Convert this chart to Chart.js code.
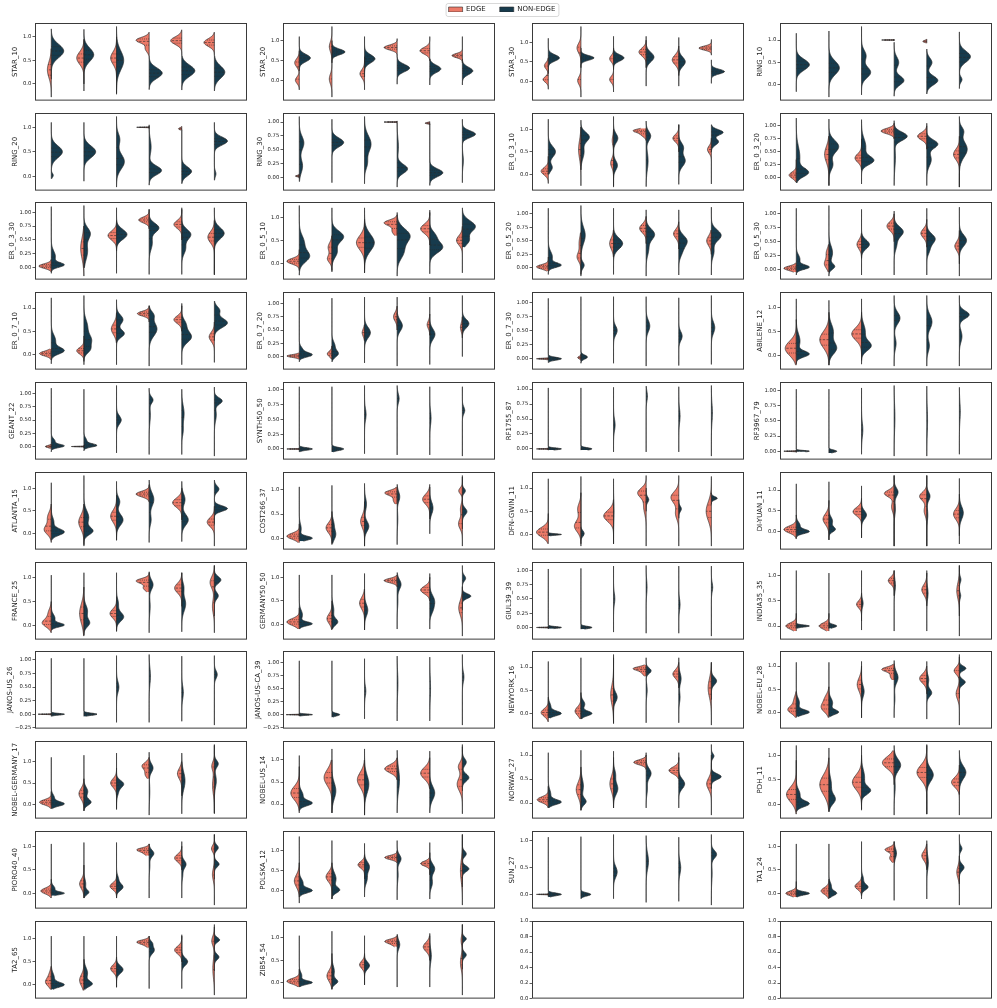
<!DOCTYPE html>
<html>
<head>
<meta charset="utf-8">
<script src="https://cdn.jsdelivr.net/npm/chart.js@4.4.1/dist/chart.umd.min.js"></script>
<style>
  html, body { margin: 0; padding: 0; background: #fff; }
  #fig { position: relative; width: 997px; height: 1008px; overflow: hidden; background: #fff; }
  #fig canvas { position: absolute; }
</style>
</head>
<body>
<div id="fig"></div>
<script>
// panel titles, row by row (4 per row)
const PANELS = [
  'STAR_10', 'STAR_20', 'STAR_30', 'RING_10',
  'RING_20', 'RING_30', 'ER_0_3_10', 'ER_0_3_20',
  'ER_0_3_30', 'ER_0_5_10', 'ER_0_5_20', 'ER_0_5_30',
  'ER_0_7_10', 'ER_0_7_20', 'ER_0_7_30', 'ABILENE_12',
  'GEANT_22', 'SYNTH50_50', 'RF1755_87', 'RF3967_79',
  'ATLANTA_15', 'COST266_37', 'DFN-GWIN_11', 'DI-YUAN_11',
  'FRANCE_25', 'GERMANY50_50', 'GIUL39_39', 'INDIA35_35',
  'JANOS-US_26', 'JANOS-US-CA_39', 'NEWYORK_16', 'NOBEL-EU_28',
  'NOBEL-GERMANY_17', 'NOBEL-US_14', 'NORWAY_27', 'PDH_11',
  'PIORO40_40', 'POLSKA_12', 'SUN_27', 'TA1_24',
  'TA2_65', 'ZIB54_54'
];
const EMPTY_PANELS = 2;

// y tick labels
const TICKS_HALF = ['0.0', '0.5', '1.0'];
const TICKS_QUARTER = ['0.00', '0.25', '0.50', '0.75', '1.00'];
const TICKS_QUARTER_NEG = ['\u22120.25', '0.00', '0.25', '0.50', '0.75', '1.00'];
const TICKS_EMPTY = ['0.0', '0.2', '0.4', '0.6', '0.8', '1.0'];
const PANEL_TICKS = [
  'h','h','h','h',  'h','q','h','q',  'q','h','q','q',  'h','q','q','h',
  'q','q','q','q',  'h','h','h','h',  'h','h','q','h',  'n','n','h','h',
  'h','h','h','h',  'h','h','h','h',  'h','h'
];

// six groups on the x axis
const GROUPS = [0, 1, 2, 3, 4, 5];

// each half violin: [low end, high end, then (centre, spread, relative width) per bump]
const EDGE = [
  [[-0.28,0.75,0.3,0.17,0.3],[-0.15,0.95,0.55,0.13,0.55],[-0.2,1.0,0.55,0.13,0.45],[0.6,1.1,0.93,0.06,1.0,0.75,0.07,0.3],[0.6,1.15,0.92,0.08,0.85],[0.6,1.1,0.88,0.08,0.8]],
  [[-0.22,0.75,0.45,0.1,0.35,0.02,0.08,0.3],[-0.4,1.35,0.85,0.12,0.2,0.05,0.12,0.2],[-0.22,0.6,0.18,0.1,0.35],[0.6,1.05,0.83,0.06,1.0],[0.5,1.1,0.75,0.08,0.75],[0.45,1.1,0.63,0.05,0.8]],
  [[-0.2,0.6,0.4,0.08,0.3,0.05,0.07,0.4],[-0.4,1.4,0.85,0.12,0.3,0.02,0.1,0.25],[-0.27,0.85,0.58,0.08,0.3,0.05,0.08,0.3],[0.35,1.05,0.75,0.1,0.55],[0.15,0.9,0.55,0.12,0.5],[0.67,1.07,0.85,0.05,0.95]],
  [null,null,null,[1,1,1,0.004,0.95],[0.93,1.02,0.97,0.02,0.3],null],
  [null,null,null,[1,1,1,0.004,0.95],[0.94,1.02,0.97,0.02,0.25],null],
  [[-0.02,0.06,0.02,0.012,0.3],null,null,[1,1,1,0.004,1.0],[0.95,1.01,0.98,0.012,0.35],null],
  [[-0.2,0.4,0.07,0.08,0.55],[-0.25,1.05,0.55,0.2,0.18],[-0.25,1.0,0.25,0.1,0.22,0.75,0.1,0.1],[0.75,1.02,0.97,0.04,1.0,0.88,0.05,0.4],[0.5,1.1,0.8,0.08,0.45],[-0.21,0.8,0.55,0.08,0.3]],
  [[-0.08,0.35,0.05,0.06,0.55],[-0.15,0.8,0.45,0.15,0.33],[0.15,0.75,0.38,0.08,0.5],[0.75,1.05,0.9,0.05,1.0],[0.55,1.0,0.8,0.07,0.7],[-0.18,0.8,0.45,0.1,0.45]],
  [[-0.07,0.15,0.03,0.04,0.95],[-0.15,0.75,0.35,0.18,0.25],[0.3,0.85,0.58,0.08,0.65],[0.7,1.05,0.86,0.05,0.8],[0.5,1.05,0.78,0.07,0.6],[-0.13,0.85,0.55,0.1,0.5]],
  [[-0.15,0.3,0.05,0.06,0.95],[-0.15,0.6,0.1,0.08,0.35,0.35,0.1,0.3],[-0.2,0.95,0.45,0.15,0.62],[0.6,1.05,0.88,0.06,1.0,0.7,0.08,0.4],[0.4,1.1,0.75,0.1,0.7],[-0.2,0.8,0.5,0.1,0.45]],
  [[-0.06,0.2,0.02,0.04,0.9],[-0.12,0.65,0.2,0.08,0.3,0.45,0.12,0.15],[0.2,0.7,0.45,0.1,0.3],[0.45,0.95,0.73,0.08,0.5],[0.35,0.85,0.63,0.08,0.4],[0.25,0.7,0.5,0.09,0.36]],
  [[-0.05,0.12,0.02,0.04,0.95],[-0.05,0.45,0.1,0.08,0.35,0.3,0.08,0.2],[0.2,0.65,0.45,0.08,0.35],[0.5,1.0,0.78,0.08,0.55],[0.4,0.9,0.65,0.08,0.45],[-0.12,0.7,0.42,0.08,0.35]],
  [[-0.12,0.12,0.02,0.05,0.9],[-0.15,0.4,0.08,0.07,0.55],[0.25,0.9,0.55,0.12,0.4],[0.7,1.05,0.88,0.05,0.9],[0.5,1.1,0.75,0.08,0.6],[-0.17,0.7,0.38,0.1,0.4]],
  [[-0.05,0.07,0.01,0.025,0.95],[-0.05,0.2,0.05,0.05,0.35],[0.3,0.6,0.45,0.07,0.18],[0.5,0.95,0.75,0.08,0.28],[0.4,0.8,0.6,0.07,0.2],[0.35,0.75,0.55,0.08,0.15]],
  [[-0.02,0.02,0.0,0.008,0.9],[-0.03,0.08,0.02,0.02,0.25],null,null,null,null],
  [[-0.2,0.75,0.15,0.15,0.85],[-0.2,0.9,0.33,0.17,0.7],[-0.1,0.9,0.45,0.13,0.75],null,null,null],
  [[-0.04,0.05,0.0,0.02,0.45],[0,0,0,0.004,0.95],null,null,null,null],
  [[0,0,0,0.004,0.95],null,null,null,null,null],
  [[0,0,0,0.004,0.9],null,null,null,null,null],
  [[0,0,0,0.004,0.95],null,null,null,null,null],
  [[-0.2,0.65,0.08,0.1,0.55,0.35,0.12,0.3],[-0.25,0.65,0.25,0.15,0.4],[-0.15,0.85,0.38,0.13,0.45],[0.7,1.08,0.87,0.06,1.0],[0.3,1.0,0.68,0.1,0.7],[-0.28,0.6,0.25,0.1,0.55]],
  [[-0.08,0.3,0.05,0.06,0.95],[-0.12,0.55,0.22,0.1,0.45],[-0.15,0.75,0.35,0.12,0.3],[0.7,1.05,0.93,0.05,0.95,0.78,0.07,0.3],[0.4,1.1,0.8,0.1,0.55],[-0.15,1.25,0.97,0.06,0.28,0.3,0.1,0.3,0.6,0.1,0.15]],
  [[-0.2,0.45,0.05,0.1,0.9],[-0.25,0.9,0.18,0.12,0.5,0.55,0.12,0.25],[-0.2,0.75,0.4,0.12,0.75],[-0.25,1.27,0.9,0.1,0.65,0.6,0.15,0.2],[-0.25,1.27,0.8,0.12,0.6,0.45,0.12,0.25],[-0.25,1.25,0.5,0.2,0.4]],
  [[-0.18,0.4,0.05,0.08,0.95],[-0.2,0.75,0.3,0.13,0.45],[-0.15,0.8,0.48,0.1,0.65],[-0.35,1.35,0.92,0.08,0.75,0.6,0.12,0.2],[-0.35,1.35,0.85,0.1,0.55,0.5,0.12,0.2],[-0.3,0.9,0.42,0.13,0.45]],
  [[-0.15,0.5,0.05,0.08,0.7,0.25,0.1,0.25],[-0.22,0.8,0.25,0.2,0.33],[-0.12,0.6,0.25,0.09,0.5],[0.7,1.1,0.93,0.05,1.0,0.78,0.06,0.45],[0.4,1.1,0.78,0.1,0.55],[-0.15,1.25,0.9,0.12,0.33,0.4,0.15,0.15]],
  [[-0.1,0.35,0.05,0.07,0.95],[-0.12,0.5,0.12,0.1,0.38],[-0.12,0.75,0.45,0.12,0.38],[0.8,1.05,0.93,0.045,1.0],[0.5,1.0,0.73,0.08,0.7],[-0.25,0.8,0.35,0.15,0.28]],
  [[0,0,0,0.004,0.9],null,null,null,null,null],
  [[-0.1,0.25,0.0,0.06,0.8],[-0.1,0.25,0.0,0.06,0.75],[0.1,0.65,0.43,0.07,0.38],[0.6,1.1,0.9,0.07,0.45],[0.4,1.05,0.72,0.1,0.38],[-0.2,1.2,0.7,0.15,0.2]],
  [[0,0,0,0.004,1.0],null,null,null,null,null],
  [[0,0,0,0.004,1.0],null,null,null,null,null],
  [[-0.18,0.35,0.02,0.08,0.55],[-0.12,0.45,0.05,0.09,0.45],[-0.2,1.2,0.4,0.2,0.22],[0.8,1.05,0.97,0.04,1.0,0.88,0.06,0.35],[0.55,1.1,0.85,0.09,0.45],[-0.25,1.1,0.55,0.2,0.25]],
  [[-0.12,0.45,0.05,0.08,0.65,0.25,0.1,0.2],[-0.12,0.55,0.1,0.1,0.6,0.3,0.1,0.3],[-0.12,1.0,0.6,0.14,0.33],[0.7,1.05,0.93,0.05,0.95,0.78,0.07,0.3],[0.4,1.0,0.73,0.1,0.55],[-0.28,1.2,0.9,0.08,0.4,0.4,0.12,0.25]],
  [[-0.1,0.3,0.05,0.06,0.9],[-0.15,0.6,0.25,0.12,0.38],[-0.1,0.85,0.5,0.1,0.45],[0.6,1.1,0.9,0.08,0.55,0.7,0.08,0.3],[0.2,1.0,0.72,0.12,0.33],[-0.22,1.38,0.9,0.1,0.2,0.45,0.2,0.15]],
  [[-0.2,0.85,0.25,0.15,0.65],[-0.2,1.0,0.6,0.18,0.6],[-0.25,1.0,0.55,0.17,0.55],[0.55,1.05,0.8,0.09,0.95],[0.35,1.05,0.7,0.13,0.7],[-0.22,1.35,0.45,0.15,0.4,0.85,0.1,0.3]],
  [[-0.1,0.35,0.07,0.06,0.85],[-0.15,0.75,0.28,0.15,0.36],[-0.1,0.95,0.4,0.15,0.28],[0.7,1.05,0.85,0.05,0.95],[0.5,0.95,0.68,0.07,0.75],[-0.25,1.0,0.4,0.12,0.36]],
  [[-0.2,0.9,0.2,0.15,0.75],[-0.15,0.95,0.4,0.2,0.7],[-0.12,1.0,0.45,0.15,0.7],[0.4,1.1,0.85,0.12,0.9],[-0.2,1.2,0.65,0.15,0.75],[-0.22,0.8,0.45,0.1,0.6]],
  [[-0.1,0.3,0.05,0.06,0.8],[-0.1,0.6,0.2,0.1,0.33],[-0.1,0.4,0.15,0.07,0.5],[0.8,1.05,0.93,0.04,0.95,0.85,0.05,0.4],[0.5,1.0,0.75,0.08,0.55],[-0.25,1.25,0.95,0.07,0.22,0.4,0.12,0.15]],
  [[-0.3,0.7,0.25,0.15,0.38],[-0.2,0.7,0.35,0.12,0.45],[0.3,0.9,0.65,0.08,0.5],[0.7,1.0,0.83,0.05,0.95],[0.4,0.95,0.68,0.06,0.7],[-0.35,1.4,0.5,0.25,0.15]],
  [[0,0,0,0.004,0.9],null,null,null,null,null],
  [[-0.08,0.25,0.0,0.05,0.8],[-0.12,0.3,0.05,0.07,0.6],[-0.05,0.35,0.15,0.07,0.5],[0.65,1.1,0.93,0.05,0.7,0.75,0.07,0.35],[0.5,1.05,0.8,0.1,0.38],[-0.25,0.8,0.45,0.12,0.2]],
  [[-0.1,0.4,0.05,0.08,0.45,0.2,0.1,0.2],[-0.12,0.55,0.1,0.12,0.33],[-0.05,0.6,0.35,0.08,0.45],[0.8,1.05,0.93,0.04,0.95,0.87,0.05,0.4],[0.5,1.05,0.75,0.08,0.55],[-0.22,1.3,0.95,0.1,0.2,0.35,0.2,0.12]],
  [[-0.1,0.3,0.03,0.06,0.95],[-0.15,0.65,0.15,0.12,0.38],[-0.05,0.65,0.4,0.08,0.38],[0.8,1.05,0.93,0.045,0.95,0.85,0.05,0.35],[0.5,1.05,0.8,0.1,0.5],[-0.28,1.3,0.45,0.15,0.15,0.95,0.1,0.1]]
];

const NON_EDGE = [
  [[0.1,1.17,0.7,0.14,0.95],[0.0,1.16,0.62,0.14,0.75],[-0.22,1.22,0.5,0.2,0.55],[-0.12,0.6,0.23,0.11,1.0],[-0.13,0.6,0.28,0.12,1.0],[-0.15,0.6,0.25,0.13,0.8]],
  [[0.25,1.1,0.57,0.09,0.85],[0.45,1.0,0.72,0.07,1.0],[0.1,1.1,0.55,0.1,0.8],[-0.08,0.6,0.32,0.09,0.95],[-0.1,0.55,0.3,0.09,0.85],[-0.1,0.55,0.25,0.09,0.8]],
  [[0.2,1.1,0.6,0.08,0.85],[0.35,0.85,0.6,0.06,1.0],[0.3,1.15,0.6,0.08,0.8],[-0.12,1.15,0.62,0.12,0.6],[-0.12,1.12,0.5,0.12,0.5],[-0.05,0.55,0.25,0.06,1.0]],
  [[-0.15,1.15,0.45,0.12,1.0],[-0.27,1.2,0.38,0.15,0.8],[-0.22,1.3,0.28,0.12,0.7,0.65,0.12,0.35],[-0.25,0.95,0.1,0.1,0.75,0.5,0.12,0.35],[-0.2,0.8,0.1,0.1,0.85,0.5,0.1,0.4],[-0.08,1.18,0.63,0.12,0.85,0.12,0.06,0.2]],
  [[-0.05,1.1,0.5,0.12,0.85,0.02,0.04,0.15],[-0.1,1.1,0.5,0.12,0.9],[-0.22,1.22,0.3,0.15,0.6,0.75,0.12,0.25],[-0.18,1.05,0.12,0.09,0.95,0.6,0.15,0.15],[-0.15,0.95,0.1,0.09,0.75],[-0.08,1.1,0.72,0.08,1.0,0.05,0.06,0.12]],
  [[-0.08,1.1,0.62,0.12,0.35,0.2,0.12,0.25],[-0.1,1.05,0.63,0.08,0.9],[-0.12,1.1,0.6,0.15,0.5,0.25,0.1,0.2],[-0.18,0.98,0.15,0.08,0.8,0.55,0.15,0.1],[-0.15,0.97,0.08,0.07,1.0],[-0.1,1.05,0.78,0.06,1.0,0.3,0.1,0.08]],
  [[0.0,1.22,0.5,0.12,0.55,0.15,0.08,0.3],[0.1,1.2,0.83,0.1,0.65,0.5,0.15,0.25],[-0.28,1.28,0.8,0.1,0.33,0.2,0.1,0.3],[-0.27,1.18,0.85,0.1,0.35,0.3,0.2,0.15],[-0.22,1.1,0.3,0.12,0.5,0.6,0.1,0.35],[0.5,1.1,0.93,0.06,0.9,0.72,0.07,0.55]],
  [[-0.1,1.15,0.1,0.08,0.95,0.4,0.2,0.3],[-0.15,1.13,0.6,0.12,0.75,0.25,0.1,0.3],[-0.12,1.12,0.33,0.08,0.95,0.6,0.15,0.35],[-0.15,1.1,0.8,0.08,1.0,0.4,0.2,0.1],[-0.15,1.05,0.65,0.08,0.85,0.35,0.12,0.35],[-0.18,1.18,0.55,0.15,0.6,0.9,0.08,0.3]],
  [[-0.1,1.1,0.05,0.04,1.0,0.2,0.1,0.35],[0.0,1.12,0.62,0.1,0.5,0.3,0.15,0.3],[-0.1,1.08,0.6,0.09,0.8],[-0.12,1.05,0.72,0.08,0.75,0.45,0.12,0.25],[-0.12,1.08,0.6,0.09,0.7,0.35,0.1,0.3],[-0.12,1.08,0.62,0.1,0.75]],
  [[-0.25,1.25,0.15,0.12,0.8,0.45,0.15,0.4],[-0.18,1.2,0.58,0.12,0.9,0.25,0.12,0.4],[-0.2,1.2,0.45,0.18,0.75],[-0.27,1.1,0.6,0.15,1.0,0.25,0.15,0.5],[-0.22,1.15,0.35,0.12,1.0,0.6,0.1,0.4],[0.35,1.2,0.8,0.12,1.0,0.5,0.1,0.5]],
  [[-0.12,1.1,0.05,0.04,1.0,0.2,0.1,0.35],[-0.15,1.15,0.6,0.15,0.33,0.05,0.06,0.25],[-0.12,1.1,0.45,0.1,0.7],[-0.15,1.07,0.62,0.1,0.65,0.35,0.12,0.2],[-0.13,1.07,0.5,0.1,0.65,0.3,0.1,0.25],[-0.13,1.12,0.6,0.1,0.75,0.3,0.1,0.2]],
  [[-0.1,1.1,0.04,0.04,1.0,0.18,0.08,0.3],[-0.12,1.15,0.05,0.05,0.45,0.3,0.12,0.3],[-0.1,1.08,0.45,0.08,0.6],[-0.1,1.05,0.68,0.09,0.7,0.45,0.1,0.2],[-0.1,1.1,0.55,0.09,0.65,0.35,0.08,0.2],[0.1,1.12,0.52,0.1,0.55]],
  [[-0.2,1.22,0.08,0.07,1.0,0.3,0.12,0.35],[-0.22,1.27,0.3,0.12,0.6,0.6,0.15,0.3,0.1,0.08,0.4],[-0.22,1.18,0.45,0.08,0.6,0.75,0.1,0.5],[-0.25,1.05,0.55,0.15,0.6,0.85,0.08,0.3],[-0.22,1.05,0.38,0.12,0.75,0.65,0.1,0.3],[0.3,1.15,0.68,0.1,1.0,0.95,0.08,0.4]],
  [[-0.1,1.1,0.03,0.04,1.0,0.12,0.06,0.3],[-0.1,1.1,0.05,0.06,0.5,0.2,0.08,0.25],[-0.12,1.12,0.45,0.1,0.45],[-0.18,1.12,0.58,0.1,0.4],[-0.15,1.12,0.42,0.1,0.4],[0.0,1.15,0.62,0.08,0.5]],
  [[-0.07,1.07,0.0,0.025,1.0],[-0.08,1.1,0.03,0.035,0.5],[-0.08,1.1,0.5,0.08,0.28],[-0.13,1.1,0.58,0.1,0.28],[-0.12,1.08,0.4,0.08,0.26],[-0.1,1.12,0.55,0.1,0.26]],
  [[-0.17,1.18,0.03,0.06,1.0,0.3,0.15,0.3],[-0.2,1.15,0.15,0.12,0.6,0.5,0.15,0.35],[-0.18,1.18,0.2,0.1,0.75,0.5,0.15,0.3],[-0.22,1.25,0.78,0.12,0.45,0.25,0.12,0.15],[-0.22,1.25,0.7,0.15,0.4,0.2,0.12,0.2],[-0.22,1.25,0.85,0.08,0.75,0.4,0.12,0.2]],
  [[-0.1,1.1,0.01,0.03,1.0,0.1,0.05,0.3],[-0.08,1.08,0.02,0.03,1.0,0.1,0.06,0.25],[-0.12,1.15,0.5,0.08,0.36],[-0.15,1.1,0.88,0.06,0.3,0.6,0.15,0.1],[-0.15,1.08,0.62,0.15,0.18,0.3,0.1,0.1],[-0.18,1.12,0.86,0.06,0.6,0.6,0.12,0.15]],
  [[-0.05,1.05,0.0,0.02,1.0],[-0.05,1.05,0.0,0.025,0.9],[-0.08,1.07,0.58,0.1,0.12],[-0.1,1.07,0.85,0.08,0.15],[-0.1,1.05,0.52,0.12,0.1],[-0.12,1.05,0.65,0.06,0.18]],
  [[-0.02,1.02,0.0,0.015,1.0],[-0.02,1.02,0.0,0.02,0.85],[-0.05,1.03,0.4,0.1,0.12],[-0.05,1.05,0.88,0.08,0.1],[-0.05,1.04,0.55,0.12,0.1],[-0.12,1.06,0.6,0.15,0.08]],
  [[-0.01,1.02,0.0,0.012,1.0],[-0.03,1.02,0.0,0.02,0.6],[-0.05,1.04,0.35,0.12,0.1],[-0.08,1.08,0.55,0.2,0.06],[-0.08,1.07,0.5,0.2,0.06],[-0.05,1.05,0.65,0.15,0.07]],
  [[-0.15,1.12,0.03,0.07,1.0,0.25,0.1,0.2],[-0.28,1.28,0.05,0.08,0.7,0.35,0.15,0.4],[-0.15,1.15,0.3,0.12,0.5,0.7,0.1,0.25],[-0.2,1.18,0.75,0.15,0.36,0.3,0.12,0.15],[-0.18,1.15,0.3,0.12,0.5,0.75,0.12,0.25],[0.2,1.18,0.55,0.06,1.0,0.98,0.07,0.35]],
  [[-0.05,1.05,0.01,0.04,1.0,0.2,0.1,0.15],[-0.1,1.08,0.08,0.1,0.3,0.3,0.1,0.15],[-0.15,1.12,0.25,0.1,0.33,0.7,0.12,0.15],[-0.12,1.1,0.85,0.1,0.2,0.4,0.15,0.05],[0.1,1.05,0.62,0.12,0.25],[0.2,1.28,0.97,0.05,0.23,0.55,0.07,0.35]],
  [[-0.03,1.2,0.0,0.015,1.0],[-0.2,1.25,0.02,0.06,0.25],[-0.2,1.2,0.5,0.2,0.04],[0.5,1.0,0.75,0.06,0.2],[0.35,0.75,0.55,0.06,0.2],[0.65,0.9,0.78,0.035,0.45]],
  [[-0.15,1.15,0.0,0.05,1.0,0.15,0.08,0.3],[-0.2,1.2,0.05,0.06,0.5,0.25,0.1,0.3],[-0.15,1.1,0.4,0.1,0.38],[-0.35,1.35,0.95,0.1,0.3,0.55,0.15,0.1],[-0.35,1.35,0.85,0.1,0.25,0.4,0.15,0.08],[-0.1,1.28,0.45,0.15,0.3]],
  [[-0.1,1.05,0.01,0.04,1.0,0.15,0.08,0.3],[-0.2,1.1,0.05,0.08,0.45,0.3,0.12,0.3],[-0.12,1.1,0.18,0.09,0.55,0.45,0.1,0.15],[-0.15,1.12,0.85,0.1,0.3,0.4,0.15,0.08],[-0.13,1.1,0.45,0.15,0.3,0.8,0.1,0.15],[0.2,1.25,0.95,0.07,0.5,0.62,0.07,0.3]],
  [[-0.1,1.05,0.01,0.04,1.0,0.2,0.1,0.25],[-0.1,1.05,0.05,0.07,0.45,0.3,0.12,0.15],[-0.12,1.08,0.3,0.12,0.25],[-0.1,1.1,0.85,0.1,0.3,0.5,0.15,0.06],[-0.1,1.08,0.5,0.12,0.38,0.3,0.1,0.2],[0.3,1.25,0.6,0.05,0.65,0.98,0.06,0.25]],
  [[-0.02,1.02,0.0,0.015,1.0],[-0.03,1.03,0.0,0.02,0.85],[-0.08,1.07,0.5,0.1,0.1],[-0.1,1.08,0.7,0.12,0.07],[-0.1,1.07,0.4,0.1,0.1],[-0.15,1.07,0.7,0.08,0.1]],
  [[-0.05,1.1,0.0,0.02,1.0],[-0.05,1.05,0.0,0.03,0.6],[-0.08,1.1,0.45,0.08,0.12],[-0.1,1.1,0.8,0.12,0.1],[-0.1,1.1,0.65,0.12,0.1],[0.2,1.2,0.92,0.06,0.12,0.6,0.06,0.1]],
  [[-0.04,1.03,0.0,0.015,1.0],[-0.04,1.03,0.0,0.02,1.0],[-0.15,1.08,0.5,0.1,0.18],[-0.15,1.1,0.7,0.15,0.1],[-0.13,1.07,0.4,0.12,0.12],[-0.2,1.08,0.73,0.07,0.22]],
  [[-0.03,1.03,0.0,0.012,1.0],[-0.05,1.03,0.0,0.025,0.6],[-0.08,1.07,0.45,0.1,0.1],[-0.12,1.12,0.6,0.2,0.06],[-0.12,1.1,0.5,0.2,0.06],[-0.2,1.15,0.72,0.1,0.12]],
  [[-0.1,1.12,0.0,0.05,1.0,0.15,0.08,0.2],[-0.12,1.2,0.0,0.05,0.85,0.2,0.08,0.3],[-0.22,1.27,0.35,0.1,0.28],[-0.2,1.2,0.92,0.06,0.38,0.5,0.12,0.08],[-0.2,1.2,0.75,0.12,0.18,0.35,0.12,0.1],[0.3,1.1,0.7,0.08,0.4]],
  [[-0.1,1.08,0.0,0.05,1.0,0.2,0.1,0.25],[-0.1,1.08,0.0,0.05,0.75,0.2,0.1,0.3],[-0.12,1.1,0.45,0.12,0.2],[-0.12,1.12,0.75,0.12,0.3,0.3,0.12,0.06],[-0.15,1.1,0.42,0.08,0.38,0.7,0.1,0.15],[0.3,1.25,0.95,0.05,0.5,0.65,0.06,0.45]],
  [[-0.1,1.1,0.01,0.05,1.0,0.15,0.08,0.25],[-0.15,1.15,0.05,0.07,0.55,0.3,0.1,0.3],[-0.12,1.2,0.48,0.08,0.55,0.3,0.1,0.15],[-0.25,1.22,0.85,0.1,0.3,0.3,0.2,0.05],[-0.22,1.2,0.55,0.2,0.25],[-0.2,1.4,0.95,0.08,0.3,0.55,0.15,0.15]],
  [[-0.15,1.1,0.02,0.06,1.0,0.2,0.1,0.3],[-0.2,1.25,0.3,0.18,0.3],[-0.25,1.25,0.45,0.2,0.33],[-0.2,1.22,0.55,0.25,0.18],[-0.2,1.2,0.25,0.15,0.38],[0.3,1.3,0.6,0.08,0.5,0.95,0.08,0.3]],
  [[-0.1,1.05,0.02,0.05,1.0,0.18,0.1,0.2],[-0.15,1.1,0.03,0.07,0.4,0.35,0.15,0.2],[-0.1,1.08,0.3,0.12,0.33,0.6,0.1,0.15],[-0.1,1.0,0.62,0.1,0.38,0.3,0.12,0.1],[-0.1,1.05,0.4,0.1,0.45],[0.3,1.22,0.55,0.06,0.75,0.98,0.05,0.2]],
  [[-0.15,1.2,0.01,0.06,1.0,0.2,0.1,0.3],[-0.15,1.15,0.1,0.1,0.5,0.4,0.15,0.2],[-0.1,1.2,0.28,0.08,0.7,0.55,0.15,0.25],[-0.22,1.2,0.8,0.12,0.5,0.35,0.15,0.08],[-0.2,1.22,0.6,0.13,0.5],[0.2,1.1,0.65,0.13,0.5]],
  [[-0.05,1.05,0.0,0.03,1.0,0.1,0.06,0.3],[-0.1,1.08,0.02,0.05,0.38,0.2,0.1,0.15],[-0.1,1.08,0.13,0.07,0.5,0.3,0.08,0.15],[-0.1,1.05,0.85,0.07,0.36,0.6,0.12,0.06],[-0.1,1.1,0.62,0.08,0.33,0.4,0.1,0.08],[0.3,1.25,0.62,0.06,0.36,0.97,0.06,0.3]],
  [[-0.15,1.35,0.01,0.06,1.0,0.2,0.1,0.3],[-0.2,1.25,0.02,0.07,0.6,0.3,0.15,0.35],[-0.15,1.18,0.6,0.12,0.38,0.3,0.12,0.2],[-0.22,1.25,0.8,0.1,0.3,0.4,0.15,0.08],[-0.2,1.2,0.55,0.12,0.38,0.2,0.12,0.2],[0.1,1.4,0.55,0.07,0.5,0.92,0.07,0.3]],
  [[-0.05,1.07,0.0,0.025,1.0],[-0.08,1.08,0.0,0.03,0.75],[-0.08,1.12,0.42,0.1,0.28],[-0.15,1.1,0.62,0.15,0.18],[-0.13,1.07,0.5,0.12,0.15],[-0.2,1.12,0.75,0.07,0.4,0.4,0.15,0.06]],
  [[-0.08,1.05,0.0,0.035,1.0],[-0.1,1.05,0.0,0.05,0.6,0.15,0.08,0.2],[-0.12,1.1,0.13,0.06,0.5,0.3,0.08,0.15],[-0.15,1.1,0.85,0.1,0.18],[-0.12,1.12,0.65,0.15,0.12],[0.2,1.25,0.55,0.07,0.36,0.95,0.06,0.2]],
  [[-0.1,1.05,0.0,0.05,1.0,0.15,0.1,0.25],[-0.1,1.05,0.02,0.06,0.65,0.25,0.12,0.3],[-0.05,1.05,0.33,0.08,0.5],[-0.08,1.05,0.75,0.08,0.4,0.9,0.05,0.2],[-0.08,1.08,0.5,0.08,0.45],[0.3,1.25,0.97,0.05,0.4,0.6,0.06,0.35]],
  [[-0.1,1.05,0.0,0.04,1.0,0.15,0.08,0.2],[-0.15,1.15,0.02,0.06,0.45,0.25,0.12,0.2],[-0.05,1.05,0.38,0.08,0.38],[-0.1,1.08,0.85,0.1,0.2],[-0.1,1.1,0.6,0.15,0.12],[0.3,1.3,0.98,0.05,0.3,0.62,0.06,0.3]]
];

const EDGE_COLOR = '#EC7A68';
const NON_EDGE_COLOR = '#173B4D';
const LINE_COLOR = '#2a2a2a';
const FONT = 'DejaVu Sans';

// figure layout
const COL_X = [35, 283, 532, 780];
const ROW_Y0 = 22.7, ROW_STEP = 89.8;
const PLOT_W = 212, PLOT_H = 78;
const AXIS_W = 35, PAD_T = 6, PAD_B = 4, PAD_R = 3;
const HALF_W = 0.4;

const fig = document.getElementById('fig');

const framePlugin = {
  id: 'frame',
  afterDraw(chart) {
    const { ctx, chartArea: a } = chart;
    ctx.save();
    ctx.strokeStyle = '#3a3a3a';
    ctx.lineWidth = 1;
    ctx.strokeRect(a.left + 0.5, a.top + 0.5, a.right - a.left - 1, a.bottom - a.top - 1);
    ctx.restore();
  }
};

function toValue(label) {
  return parseFloat(label.replace('\u2212', '-'));
}

function tickLabels(key) {
  if (key === 'q') return TICKS_QUARTER;
  if (key === 'n') return TICKS_QUARTER_NEG;
  if (key === 'e') return TICKS_EMPTY;
  return TICKS_HALF;
}

// outline, centre line and quartile lines of one half violin
function halfViolin(spec, x0, side, color) {
  let lo = spec[0], hi = spec[1];
  const bumps = [];
  for (let k = 2; k + 2 < spec.length; k += 3) bumps.push({ m: spec[k], s: spec[k + 1], w: spec[k + 2] });
  if (hi - lo < 1e-6) { lo -= 0.02; hi += 0.02; }
  const dens = y => bumps.reduce((a, b) => a + b.w * Math.exp(-0.5 * ((y - b.m) / b.s) ** 2), 0);

  let ys = [];
  const N = 80;
  for (let i = 0; i <= N; i++) ys.push(lo + (hi - lo) * i / N);
  bumps.forEach(b => {
    for (let j = -24; j <= 24; j++) {
      const y = b.m + b.s * j / 6;
      if (y > lo && y < hi) ys.push(y);
    }
  });
  ys.sort((a, b) => a - b);
  ys = ys.filter((y, i) => i === 0 || y - ys[i - 1] > 1e-6);
  const raw = ys.map(dens);
  const peak = Math.max(...raw);
  const target = Math.max(...bumps.map(b => b.w));
  const k = peak > 0 ? Math.min(1, target / peak) : 0;
  const width = y => side * HALF_W * dens(y) * k;

  const pts = ys.map((y, i) => ({ x: x0 + side * HALF_W * raw[i] * k, y }));

  const sets = [{
    data: pts, order: 3, fill: { value: x0 }, backgroundColor: color,
    borderColor: LINE_COLOR, borderWidth: 0.7, pointRadius: 0,
    cubicInterpolationMode: 'monotone'
  }, {
    data: [{ x: x0, y: lo }, { x: x0, y: hi }], order: 2, fill: false,
    borderColor: LINE_COLOR, borderWidth: 0.7, pointRadius: 0
  }];

  // quartiles from the density
  const cum = [0];
  for (let i = 1; i < ys.length; i++) cum.push(cum[i - 1] + 0.5 * (raw[i] + raw[i - 1]) * (ys[i] - ys[i - 1]));
  const total = cum[cum.length - 1];
  [0.25, 0.5, 0.75].forEach(p => {
    if (total <= 0) return;
    const t = p * total;
    let i = 1;
    while (i < cum.length - 1 && cum[i] < t) i++;
    const f = (t - cum[i - 1]) / Math.max(1e-12, cum[i] - cum[i - 1]);
    const q = ys[i - 1] + f * (ys[i] - ys[i - 1]);
    sets.push({
      data: [{ x: x0, y: q }, { x: x0 + width(q), y: q }], order: 1, fill: false,
      borderColor: LINE_COLOR, borderWidth: 0.6,
      borderDash: p === 0.5 ? [2.4, 1.4] : [1, 1.1], pointRadius: 0
    });
  });
  return sets;
}

function makePanel(i) {
  const row = Math.floor(i / 4), col = i % 4;
  const name = PANELS[i] || '';
  const key = name ? PANEL_TICKS[i] : 'e';
  const labels = tickLabels(key);
  const values = labels.map(toValue);

  const datasets = [];
  let yMin = 0, yMax = 1;
  if (name) {
    let lo = Infinity, hi = -Infinity;
    GROUPS.forEach((g, c) => {
      [[EDGE[i][c], -1, EDGE_COLOR], [NON_EDGE[i][c], 1, NON_EDGE_COLOR]].forEach(([spec, side, color]) => {
        if (!spec) return;
        lo = Math.min(lo, spec[0]);
        hi = Math.max(hi, spec[1]);
        datasets.push(...halfViolin(spec, g, side, color));
      });
    });
    const r = hi - lo;
    yMin = lo - 0.05 * r;
    yMax = hi + 0.05 * r;
  }

  const canvas = document.createElement('canvas');
  const w = AXIS_W + PLOT_W + PAD_R, h = PAD_T + PLOT_H + PAD_B;
  canvas.width = w;
  canvas.height = h;
  canvas.style.left = (COL_X[col] - AXIS_W) + 'px';
  canvas.style.top = (Math.round(ROW_Y0 + row * ROW_STEP) - PAD_T) + 'px';
  canvas.style.width = w + 'px';
  canvas.style.height = h + 'px';
  fig.appendChild(canvas);

  const gap = key === 'q' ? 22.5 : key === 'n' ? 25 : 19.5;

  new Chart(canvas, {
    type: 'line',
    data: { datasets },
    options: {
      indexAxis: 'y',
      responsive: false, animation: false, events: [], devicePixelRatio: 1,
      parsing: false,
      layout: { padding: { left: 0, top: PAD_T, right: PAD_R, bottom: PAD_B } },
      plugins: { legend: { display: false }, tooltip: { enabled: false } },
      scales: {
        x: { type: 'linear', min: -0.5, max: 6.0, display: false },
        y: {
          type: 'linear', min: yMin, max: yMax,
          afterFit: s => { s.width = AXIS_W; },
          afterBuildTicks: s => { s.ticks = values.map(v => ({ value: v })); },
          border: { display: false },
          grid: { drawOnChartArea: false, drawTicks: true, tickLength: 2.5, tickColor: '#333', tickWidth: 0.8 },
          ticks: {
            autoSkip: false, padding: 1.2, color: '#222',
            font: { family: FONT, size: 5.3 },
            callback: v => labels[values.findIndex(x => Math.abs(x - v) < 1e-9)]
          },
          title: {
            display: !!name, text: name, color: '#222',
            font: { family: FONT, size: 7 },
            padding: { top: 30.8 - gap, bottom: 0 }
          }
        }
      }
    },
    plugins: [framePlugin]
  });
}

for (let i = 0; i < PANELS.length + EMPTY_PANELS; i++) makePanel(i);

// legend
const legendFrame = {
  id: 'legendFrame',
  afterDraw(chart) {
    const boxes = chart.legend.legendHitBoxes;
    if (!boxes || !boxes.length) return;
    const l = Math.min(...boxes.map(b => b.left)) - 3;
    const r = Math.max(...boxes.map(b => b.left + b.width)) + 3;
    const t = Math.min(...boxes.map(b => b.top)) - 3;
    const bt = Math.max(...boxes.map(b => b.top + b.height)) + 3;
    const ctx = chart.ctx;
    ctx.save();
    ctx.strokeStyle = '#cfcfcf';
    ctx.lineWidth = 0.8;
    ctx.beginPath();
    ctx.roundRect(l + 0.5, t + 0.5, r - l, bt - t, 2);
    ctx.stroke();
    ctx.restore();
  }
};

const lc = document.createElement('canvas');
lc.width = 200; lc.height = 40;
lc.style.left = '402px'; lc.style.top = '-8px';
lc.style.width = '200px'; lc.style.height = '40px';
fig.appendChild(lc);
new Chart(lc, {
  type: 'line',
  data: {
    datasets: [
      { label: 'EDGE', data: [], backgroundColor: EDGE_COLOR, borderColor: LINE_COLOR, borderWidth: 0.6 },
      { label: 'NON-EDGE', data: [], backgroundColor: NON_EDGE_COLOR, borderColor: LINE_COLOR, borderWidth: 0.6 }
    ]
  },
  options: {
    responsive: false, animation: false, events: [], devicePixelRatio: 1,
    plugins: {
      tooltip: { enabled: false },
      legend: {
        display: true, position: 'top',
        labels: { boxWidth: 14, boxHeight: 5, padding: 14, color: '#222', font: { family: FONT, size: 7 } }
      }
    },
    scales: { x: { display: false }, y: { display: false } }
  },
  plugins: [legendFrame]
});
</script>
</body>
</html>
